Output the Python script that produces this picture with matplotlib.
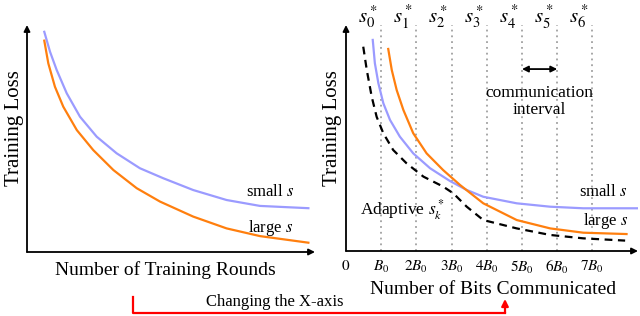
import matplotlib as mpl
import matplotlib.pyplot as plt
import matplotlib.lines as mlines

mpl.rcParams["font.family"] = ["Liberation Serif", "DejaVu Serif"]
mpl.rcParams["mathtext.fontset"] = "stix"

# left panel: loss vs training rounds (arbitrary units)
rounds = [0.60, 0.80, 1.03, 1.38, 1.84, 2.42, 3.11, 3.92, 4.73, 5.77, 6.93, 8.09, 9.77]
loss_small_rounds = [9.70, 8.82, 8.02, 6.99, 5.96, 5.08, 4.35, 3.69, 3.25, 2.73, 2.29, 2.03, 1.93]
rounds_large = [0.60, 0.74, 0.97, 1.26, 1.73, 2.30, 3.00, 3.81, 4.62, 5.77, 6.93, 8.09, 9.77]
loss_large_rounds = [9.31, 8.31, 7.28, 6.40, 5.37, 4.49, 3.61, 2.81, 2.22, 1.56, 1.04, 0.70, 0.41]

# right panel: loss vs bits communicated (units of B0)
bits_small = [0.76, 0.82, 0.92, 1.06, 1.25, 1.53, 1.91, 2.39, 2.95, 3.43, 3.90, 4.85, 5.80, 6.74, 8.30]
loss_small_bits = [9.34, 8.31, 7.42, 6.54, 5.80, 5.06, 4.32, 3.66, 3.10, 2.70, 2.40, 2.11, 1.96, 1.89, 1.89]
bits_large = [1.20, 1.30, 1.44, 1.63, 1.91, 2.29, 2.76, 3.24, 3.90, 4.85, 5.80, 6.74, 7.97]
loss_large_bits = [8.94, 8.01, 7.12, 6.24, 5.21, 4.32, 3.58, 2.92, 2.11, 1.37, 1.00, 0.81, 0.75]
bits_adapt = [0.49, 0.59, 0.73, 0.87, 1.06, 1.34, 1.72, 2.20, 2.76, 3.05, 3.43, 3.90, 4.85,
              5.80, 6.74, 7.93]
loss_adapt = [9.04, 8.01, 6.83, 5.94, 5.21, 4.47, 3.88, 3.29, 2.85, 2.55, 1.96, 1.37, 1.00,
              0.71, 0.56, 0.46]

bit_ticks = [0, 1, 2, 3, 4, 5, 6, 7]
bit_labels = ["$\\mathit{0}$", "$\\mathit{B_0}$"] + ["$\\mathit{%dB_0}$" % k for k in range(2, 8)]
interval_labels = ["$\\mathit{s_%d^*}$" % i for i in range(7)]

BLUE = "#9b9bff"
ORANGE = "#ff7f0e"
W, H = 640, 316


def px(x, y):
    return x / W, 1 - y / H


def bare_axes(ax):
    for sp in ax.spines.values():
        sp.set_visible(False)
    ax.set_ylim(0, 10)
    ax.set_yticks([])
    ax.annotate("", xy=(0, 1), xytext=(0, 0), xycoords="axes fraction",
                arrowprops=dict(arrowstyle="-|>", lw=1.3, color="k", mutation_scale=9,
                                shrinkA=0, shrinkB=0))
    ax.annotate("", xy=(1, 0), xytext=(0, 0), xycoords="axes fraction",
                arrowprops=dict(arrowstyle="-|>", lw=1.3, color="k", mutation_scale=9,
                                shrinkA=0, shrinkB=0))


fig = plt.figure(figsize=(6.4, 3.16), dpi=100)

# left panel
ax1 = fig.add_axes([27 / W, 64 / H, 288 / W, 227 / H])
ax1.patch.set_alpha(0)
bare_axes(ax1)
ax1.set_xlim(0, 10)
ax1.set_xticks([])
ax1.plot(rounds, loss_small_rounds, color=BLUE, lw=1.6)
ax1.plot(rounds_large, loss_large_rounds, color=ORANGE, lw=1.6)
ax1.text(8.44, 2.64, "small $s$", ha="center", va="center", fontsize=12)
ax1.text(8.47, 1.06, "large $s$", ha="center", va="center", fontsize=12)

# right panel
ax2 = fig.add_axes([346 / W, 65 / H, 292 / W, 226 / H])
ax2.patch.set_alpha(0)
bare_axes(ax2)
ax2.set_xlim(0, 292 / 35.2)
for i, lab in enumerate(interval_labels):
    ax2.axvline(i + 1, color="#a0a0a0", lw=1.3, ls=(0, (1, 2.2)), zorder=0)
    ax2.text(i + 0.62, 10.35, lab, ha="center", va="center", fontsize=15,
             clip_on=False)
ax2.set_xticks(bit_ticks)
ax2.set_xticklabels(bit_labels, fontsize=11)
ax2.tick_params(axis="x", length=0, pad=6)
ax2.plot(bits_small, loss_small_bits, color=BLUE, lw=1.6)
ax2.plot(bits_large, loss_large_bits, color=ORANGE, lw=1.6)
ax2.plot(bits_adapt, loss_adapt, color="k", lw=1.6, ls=(0, (3.5, 2.5)))
ax2.text(7.30, 2.61, "small $s$", ha="center", va="center", fontsize=12)
ax2.text(7.39, 1.33, "large $s$", ha="center", va="center", fontsize=12)
ax2.text(0.40, 1.85, "Adaptive $s_k^*$", ha="left", va="center", fontsize=12.5)
ax2.annotate("", xy=(6.0, 8.05), xytext=(5.0, 8.05),
             arrowprops=dict(arrowstyle="<|-|>", lw=1.3, color="k", mutation_scale=9,
                             shrinkA=0, shrinkB=0))
ax2.text(5.5, 6.6, "communication\ninterval", ha="center", va="center",
         fontsize=12.5, linespacing=1.1)

# axis titles
fig.text(*px(15, 128), "Training Loss", rotation=90, ha="center", va="center", fontsize=15)
fig.text(*px(333, 128), "Training Loss", rotation=90, ha="center", va="center", fontsize=15)
fig.text(*px(165, 270), "Number of Training Rounds", ha="center", va="center", fontsize=14)
fig.text(*px(493, 289), "Number of Bits Communicated", ha="center", va="center", fontsize=14)

# red connector arrow
conn_x = [133, 133, 505]
conn_y = [297, 313, 313]
fig.add_artist(mlines.Line2D([x / W for x in conn_x], [1 - y / H for y in conn_y],
                             color="red", lw=1.6, transform=fig.transFigure))
fig.add_artist(mpl.patches.FancyArrowPatch(px(505, 313), px(505, 299),
                                           transform=fig.transFigure, arrowstyle="-|>",
                                           color="red", lw=1.6, mutation_scale=10,
                                           shrinkA=0, shrinkB=0))
fig.text(*px(275, 302), "Changing the X-axis", ha="center", va="center", fontsize=12)

plt.savefig("out.png", dpi=100)
